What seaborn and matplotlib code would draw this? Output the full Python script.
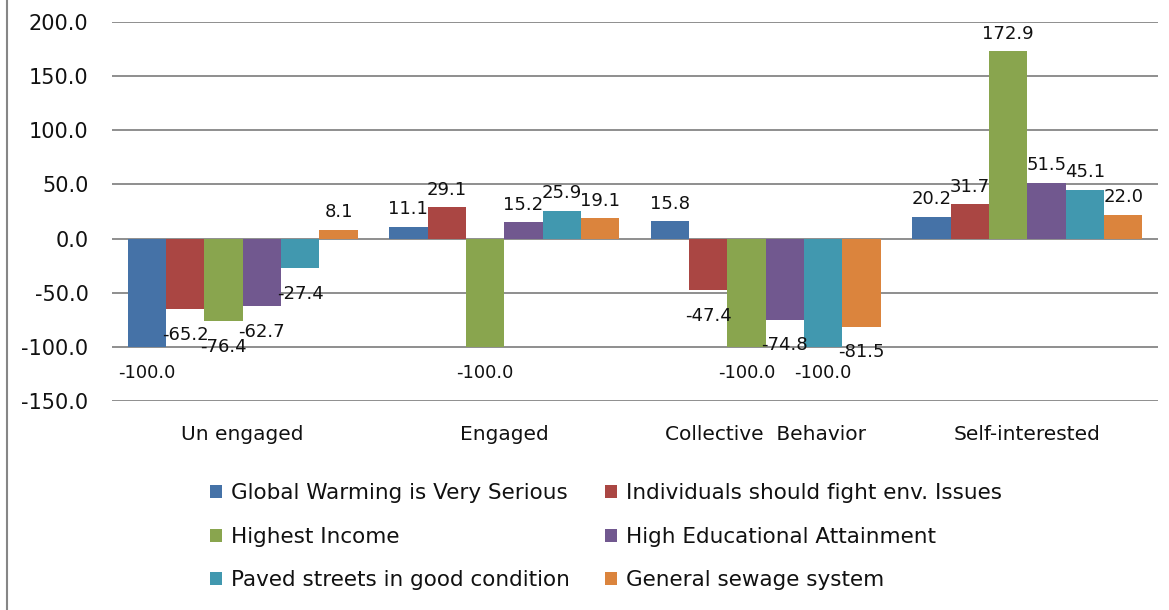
import pandas as pd
import numpy as np
import matplotlib.pyplot as plt
import seaborn as sns
from matplotlib.lines import Line2D

sns.set_style("white")
plt.rcParams['font.family'] = ['DejaVu Sans']

# 数据
categories = ['Unengaged', 'Engaged', 'Collective Behavior', 'Self-interested']
tick_labels = ['Un engaged', 'Engaged', 'Collective  Behavior', 'Self-interested']
series = ['Global Warming is Very Serious', 'Individuals should fight env. Issues',
          'Highest Income', 'High Educational Attainment',
          'Paved streets in good condition', 'General sewage system']
global_warming = [-100.0, 11.1, 15.8, 20.2]
individuals = [-65.2, 29.1, -47.4, 31.7]
highest_income = [-76.4, -100.0, -100.0, 172.9]
education = [-62.7, 15.2, -74.8, 51.5]
paved_streets = [-27.4, 25.9, -100.0, 45.1]
sewage = [8.1, 19.1, -81.5, 22.0]

colors = ['#4572A7', '#AA4643', '#89A54E', '#71588F', '#4198AF', '#DB843D']

values = [global_warming, individuals, highest_income, education, paved_streets, sewage]
rows = []
for s, vals in zip(series, values):
    for c, v in zip(categories, vals):
        rows.append({'Category': c, 'Series': s, 'Value': v})
df = pd.DataFrame(rows)

fig = plt.figure(figsize=(11.69, 6.10), dpi=100)
ax = fig.add_axes([0.0958, 0.3426, 0.8948, 0.6214])

sns.barplot(data=df, x='Category', y='Value', hue='Series', order=categories,
            hue_order=series, palette=colors, width=0.88, gap=0,
            saturation=1, errorbar=None, ax=ax, legend=True, linewidth=0)

# 数据标签：正值在上，负值放得更低一些
for cont in ax.containers:
    pos_labels = [f'{v:.1f}' if v >= 0 else '' for v in cont.datavalues]
    neg_labels = [f'{v:.1f}' if v < 0 else '' for v in cont.datavalues]
    ax.bar_label(cont, labels=pos_labels, padding=6, fontsize=13, color='#111111')
    ax.bar_label(cont, labels=neg_labels, padding=12, fontsize=13, color='#111111')

ax.set_ylim(-150, 200)
ax.set_yticks(np.arange(-150, 201, 50))
ax.set_yticklabels([f'{v:.1f}' for v in np.arange(-150, 201, 50)], fontsize=15)
ax.set_xticks(range(len(categories)))
ax.set_xticklabels(tick_labels, fontsize=14.5)
ax.set_xlabel('')
ax.set_ylabel('')
ax.tick_params(axis='x', length=0, pad=17, colors='#111111')
ax.tick_params(axis='y', length=0, pad=17, colors='#111111')
ax.grid(axis='y', color='#868686', linewidth=1.3)
ax.set_axisbelow(True)
for sp in ax.spines.values():
    sp.set_visible(False)

handles, labels = ax.get_legend_handles_labels()
ax.get_legend().remove()
order = [0, 2, 4, 1, 3, 5]
leg = fig.legend([handles[i] for i in order], [labels[i] for i in order], ncol=2,
                 loc='upper left', bbox_to_anchor=(0.163, 0.24),
                 frameon=False, fontsize=15.5, handlelength=0.55, handleheight=0.55,
                 handletextpad=0.45, columnspacing=1.6, labelspacing=1.1)
for t in leg.get_texts():
    t.set_color('#111111')

# 外框左边线
fig.add_artist(Line2D([0.006, 0.006], [0, 1], color='#868686', linewidth=1.5))

fig.savefig('out.png', dpi=100)
